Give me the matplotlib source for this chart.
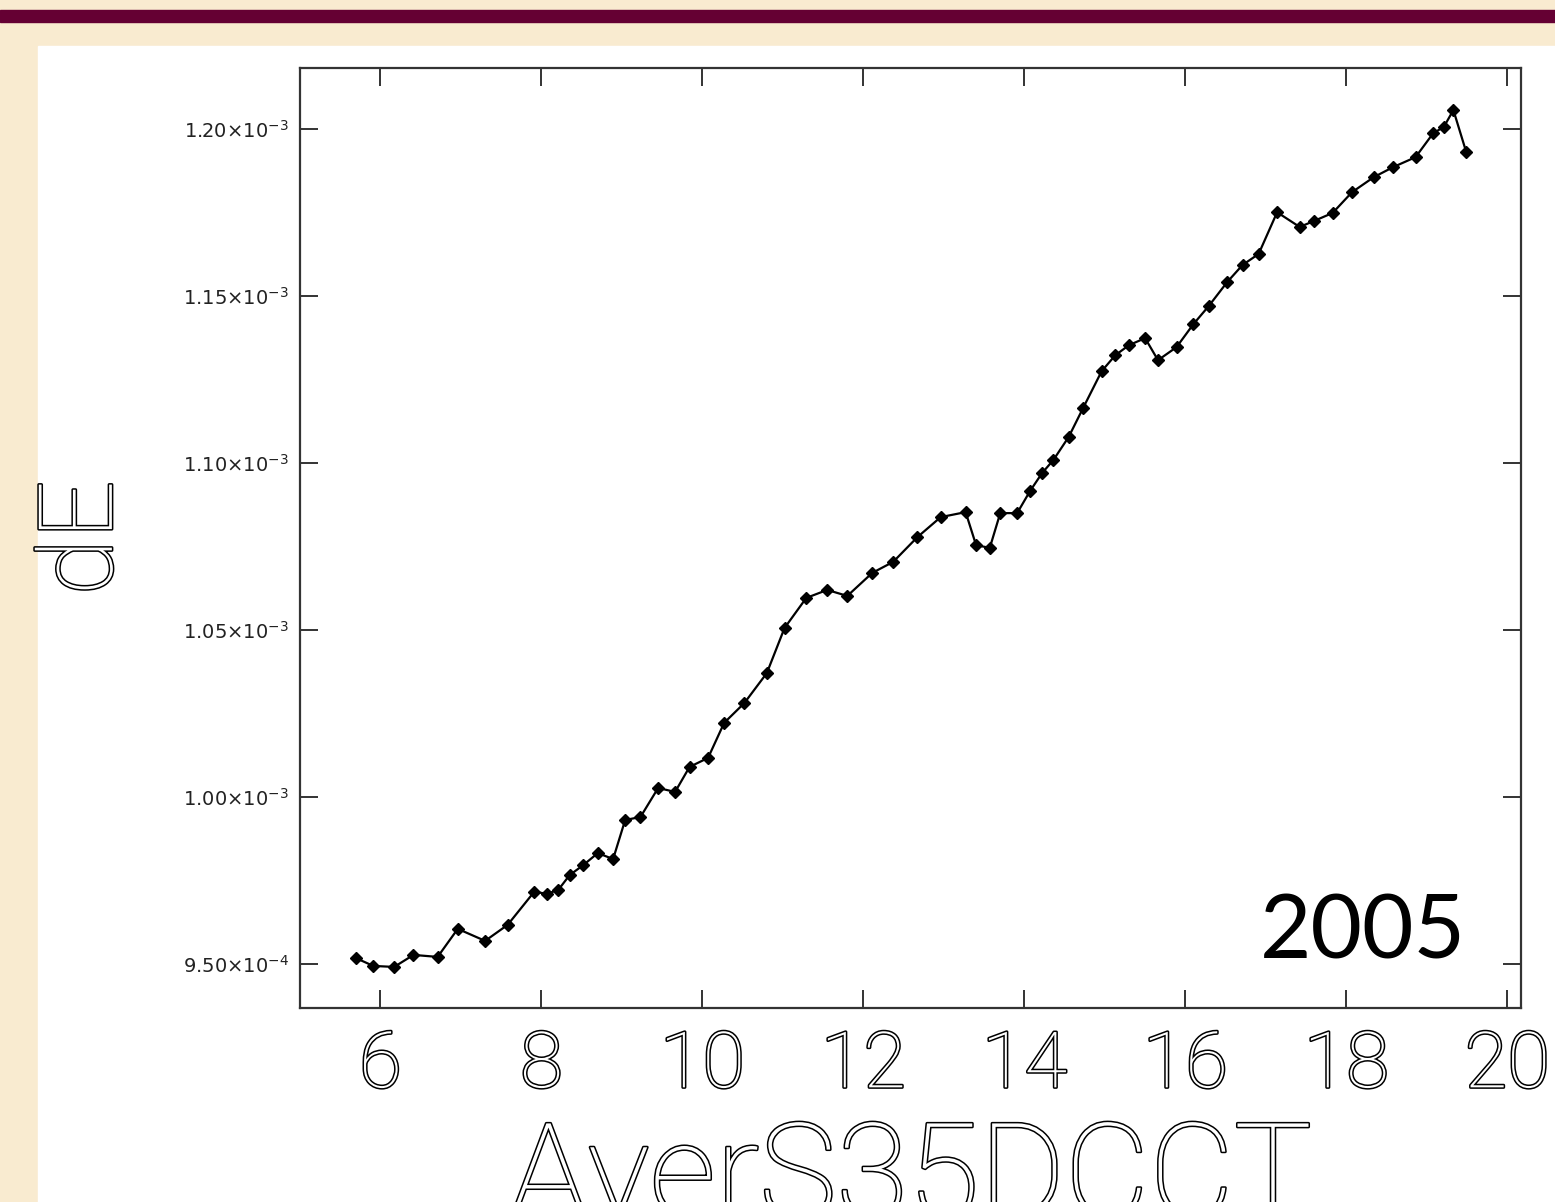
import numpy as np
import matplotlib
matplotlib.use('Agg')
import matplotlib.pyplot as plt
import matplotlib.patheffects as pe
from matplotlib.patches import Rectangle

# values
aver = [5.69, 5.91, 6.17, 6.41, 6.71, 6.96, 7.30, 7.58, 7.91, 8.07,
        8.21, 8.35, 8.52, 8.70, 8.89, 9.04, 9.23, 9.45, 9.66, 9.84,
        10.07, 10.27, 10.52, 10.80, 11.02, 11.29, 11.55, 11.80, 12.11, 12.37,
        12.67, 12.96, 13.27, 13.40, 13.57, 13.70, 13.91, 14.07, 14.22, 14.36,
        14.55, 14.73, 14.96, 15.13, 15.30, 15.50, 15.66, 15.89, 16.10, 16.29,
        16.52, 16.71, 16.91, 17.14, 17.42, 17.60, 17.83, 18.07, 18.34, 18.58,
        18.86, 19.08, 19.21, 19.33, 19.49]
dE = [0.9518, 0.9494, 0.9491, 0.9527, 0.9521, 0.9605, 0.9569, 0.9617, 0.9716, 0.9710,
      0.9722, 0.9766, 0.9796, 0.9832, 0.9814, 0.9931, 0.9940, 1.0027, 1.0015, 1.0090,
      1.0117, 1.0222, 1.0281, 1.0371, 1.0506, 1.0596, 1.0620, 1.0602, 1.0671, 1.0704,
      1.0778, 1.0838, 1.0853, 1.0754, 1.0746, 1.0850, 1.0850, 1.0916, 1.0970, 1.1009,
      1.1078, 1.1165, 1.1275, 1.1323, 1.1353, 1.1374, 1.1308, 1.1347, 1.1416, 1.1470,
      1.1542, 1.1593, 1.1626, 1.1751, 1.1707, 1.1725, 1.1749, 1.1811, 1.1856, 1.1886,
      1.1916, 1.1988, 1.2006, 1.2057, 1.1931]
dE = [v * 1e-3 for v in dE]

xticks = [6, 8, 10, 12, 14, 16, 18, 20]
yticks = [0.95e-3, 1.00e-3, 1.05e-3, 1.10e-3, 1.15e-3, 1.20e-3]
ylabels = [r'$9.50{\times}10^{-4}$', r'$1.00{\times}10^{-3}$', r'$1.05{\times}10^{-3}$',
           r'$1.10{\times}10^{-3}$', r'$1.15{\times}10^{-3}$', r'$1.20{\times}10^{-3}$']

fig = plt.figure(figsize=(15.55, 12.02), dpi=100)
fig.patch.set_facecolor('#F9EBD0')
# slide decoration
fig.add_artist(Rectangle((0, 1 - 22/1202), 1, 12/1202, transform=fig.transFigure,
                         color='#650033', zorder=0))
fig.add_artist(Rectangle((38/1555, 0), 1, (1202 - 46)/1202, transform=fig.transFigure,
                         color='white', zorder=0))

ax = fig.add_axes([300/1555, 1 - 1008/1202, 1221/1555, 940/1202])
ax.plot(aver, dE, color='black', lw=1.6, marker='D', ms=6)

ax.set_xlim(5.0, 20.17)
ax.set_ylim(0.9368e-3, 1.2183e-3)

for s in ax.spines.values():
    s.set_linewidth(1.6)
    s.set_color('#333333')
ax.tick_params(direction='in', length=13, width=1.4, top=True, right=True, colors='#333333')

outline = [pe.withStroke(linewidth=2.2, foreground='black')]
ax.set_xticks(xticks)
ax.set_xticklabels([str(t) for t in xticks], fontsize=56, family='Roboto', fontweight='light',
                   color='white', path_effects=outline)
ax.tick_params(axis='x', pad=15, labelcolor='white')
ax.set_yticks(yticks)
ax.set_yticklabels(ylabels, fontsize=14)
ax.tick_params(axis='y', pad=8, labelcolor='#222222')

ax.set_xlabel('AverS35DCCT', fontsize=94, family='Roboto', fontweight='light',
              color='white', path_effects=outline, labelpad=10)
ax.set_ylabel('dE', fontsize=74, family='Roboto', fontweight='light',
              color='white', path_effects=outline, labelpad=36)

ax.text(0.955, 0.053, '2005', transform=ax.transAxes, fontsize=64, family='Lato',
        ha='right', va='baseline', color='black')

fig.savefig('out.png', dpi=100, facecolor=fig.get_facecolor())
